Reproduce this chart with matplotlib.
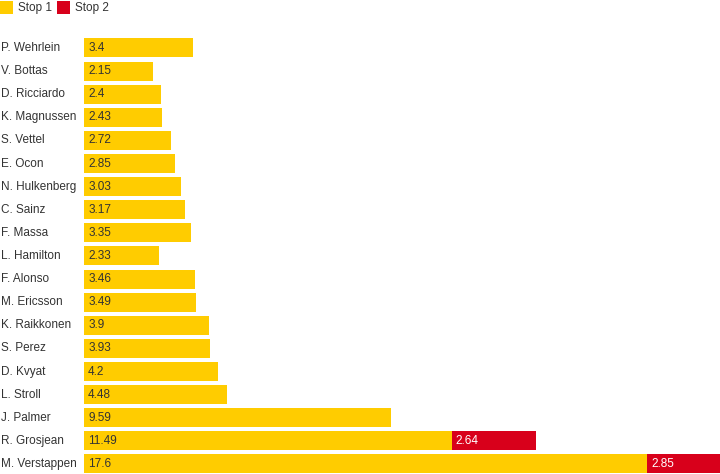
import matplotlib
matplotlib.use("Agg")
import matplotlib.pyplot as plt
from matplotlib.patches import Rectangle

drivers = ["P. Wehrlein", "V. Bottas", "D. Ricciardo", "K. Magnussen", "S. Vettel",
           "E. Ocon", "N. Hulkenberg", "C. Sainz", "F. Massa", "L. Hamilton",
           "F. Alonso", "M. Ericsson", "K. Raikkonen", "S. Perez", "D. Kvyat",
           "L. Stroll", "J. Palmer", "R. Grosjean", "M. Verstappen"]
stop1 = [3.4, 2.15, 2.4, 2.43, 2.72, 2.85, 3.03, 3.17, 3.35, 2.33,
         3.46, 3.49, 3.9, 3.93, 4.2, 4.48, 9.59, 11.49, 17.6]
stop2 = [0, 0, 0, 0, 0, 0, 0, 0, 0, 0, 0, 0, 0, 0, 0, 0, 0, 2.64, 2.85]
stop2_labels = ["", "", "", "", "", "", "", "", "", "", "", "", "", "", "", "", "", "2.64", "2.85"]
stop1_labels = ["3.4", "2.15", "2.4", "2.43", "2.72", "2.85", "3.03", "3.17", "3.35", "2.33",
                "3.46", "3.49", "3.9", "3.93", "4.2", "4.48", "9.59", "11.49", "17.6"]

YEL = "#FFCC00"
RED = "#D8001B"
FONT = ["Liberation Sans", "DejaVu Sans"]

W, H = 720, 474
fig = plt.figure(figsize=(W / 100, H / 100), dpi=100)

top_px = 36.4
bottom_px = 475.5
ax = fig.add_axes([84 / W, 1 - bottom_px / H, 1 - 84 / W, (bottom_px - top_px) / H])
ax.set_xlim(0, (720 - 84) / 32.0)
ax.set_ylim(len(drivers) - 0.5, -0.5)
ax.axis("off")

ys = list(range(len(drivers)))
ax.barh(ys, stop1, height=0.82, color=YEL, linewidth=0)
ax.barh(ys, stop2, left=stop1, height=0.82, color=RED, linewidth=0)

for i, y in enumerate(ys):
    ax.annotate(stop1_labels[i], (0, y), xytext=(3, 0), textcoords="offset points",
                va="center", ha="left", fontsize=8.5, color="#333333", family=FONT)
    if stop2[i] > 0:
        ax.annotate(stop2_labels[i], (stop1[i], y), xytext=(3, 0), textcoords="offset points",
                    va="center", ha="left", fontsize=8.5, color="white", family=FONT)
    yfig = ax.transData.transform((0, y))[1]
    fig.text(1 / W, yfig / H, drivers[i], transform=fig.transFigure, va="center", ha="left",
             fontsize=8.5, color="#333333", family=FONT)

# legend
fig.patches.append(Rectangle((0, 1 - 14 / H), 13 / W, 13 / H, transform=fig.transFigure,
                             color=YEL, linewidth=0))
fig.text(18 / W, 1 - 7.5 / H, "Stop 1", va="center", ha="left", fontsize=8.5,
         color="#333333", family=FONT)
fig.patches.append(Rectangle((57 / W, 1 - 14 / H), 13 / W, 13 / H, transform=fig.transFigure,
                             color=RED, linewidth=0))
fig.text(75 / W, 1 - 7.5 / H, "Stop 2", va="center", ha="left", fontsize=8.5,
         color="#333333", family=FONT)

fig.savefig("out.png", dpi=100)
